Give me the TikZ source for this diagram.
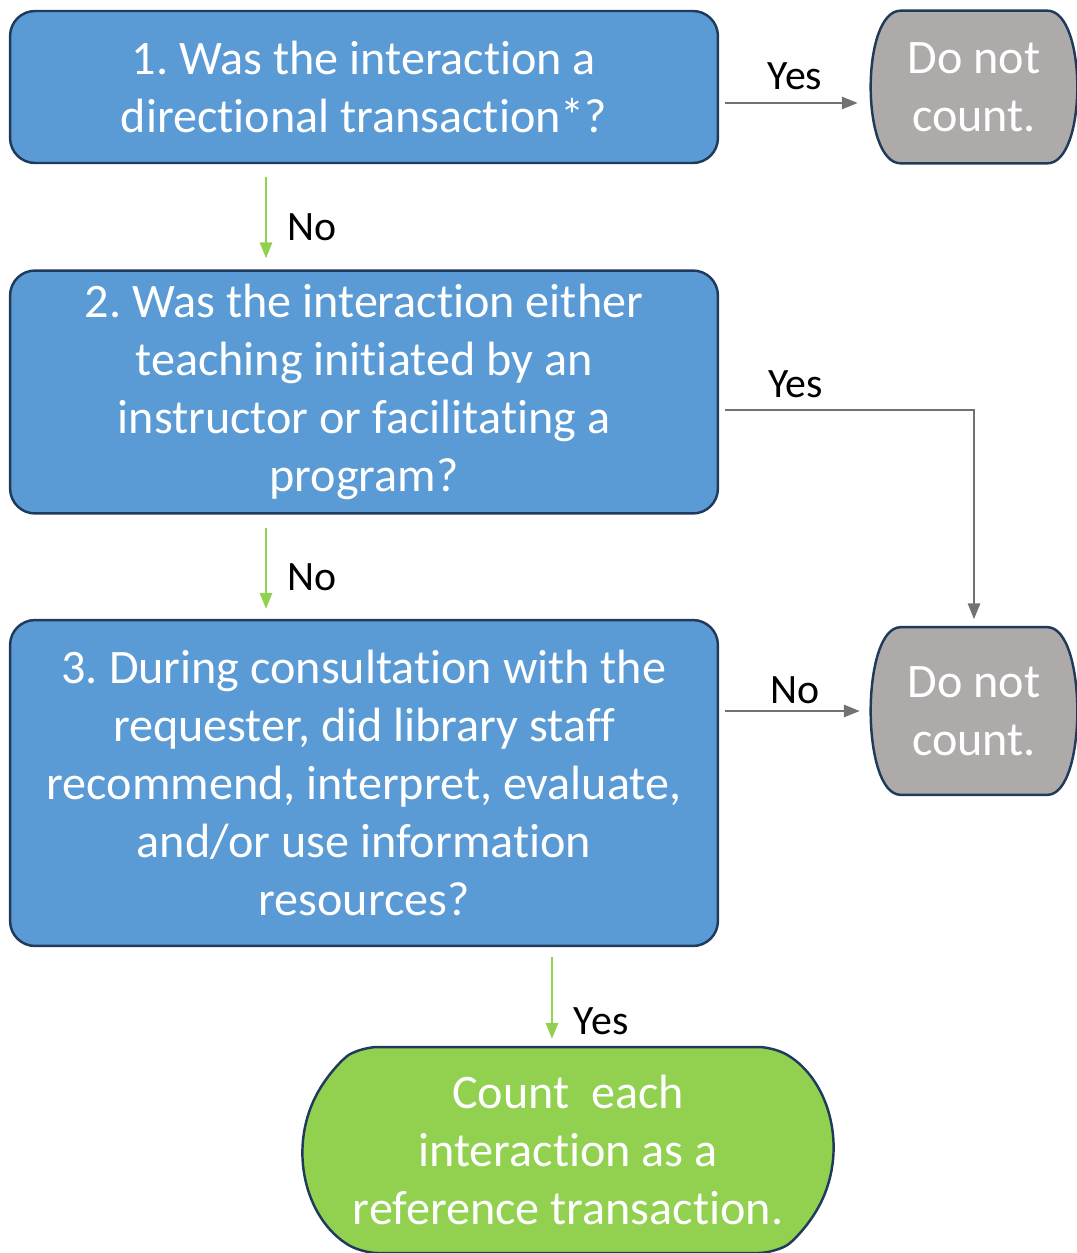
\documentclass[tikz,border=0pt]{standalone}
\usepackage{fontspec}
\setmainfont{Carlito}[Ligatures=NoCommon]
\usepackage{xcolor}
\usepackage{tikz}
\usetikzlibrary{arrows.meta, positioning, shapes.misc, backgrounds}
\frenchspacing

\definecolor{askblue}{HTML}{5B9BD5}
\definecolor{edgenavy}{HTML}{203A5C}
\definecolor{stopgray}{HTML}{AEAAAA}
\definecolor{countgreen}{HTML}{92D050}
\definecolor{linegray}{HTML}{767171}

% barrel outline round a plain node
\newcommand{\stopoutline}[1]{%
	\draw[stopline] ([xshift=0.6cm]#1.north west) -- ([xshift=-0.6cm]#1.north east)
		.. controls ([xshift=0.2cm]#1.north east) and ([xshift=0.2cm]#1.south east) .. ([xshift=-0.6cm]#1.south east)
		-- ([xshift=0.6cm]#1.south west)
		.. controls ([xshift=-0.2cm]#1.south west) and ([xshift=-0.2cm]#1.north west) .. cycle;}

\tikzset{
	question/.style = {draw=edgenavy, line width=1.4pt, fill=askblue, rounded corners=0.5cm,
		text=white, align=center, minimum width=14.16cm, font=\fontsize{27.4}{33}\selectfont},
	stopnode/.style = {text=white, align=center, minimum width=4.12cm, font=\fontsize{27.4}{33}\selectfont},
	stopline/.style = {draw=edgenavy, line width=1.4pt, fill=stopgray},
	countnode/.style = {draw=edgenavy, line width=1.4pt, fill=countgreen, rounded rectangle,
		rounded rectangle arc length=120, rounded corners=0.3cm, text=white,
		align=center, minimum width=10.84cm, minimum height=4.12cm, font=\fontsize{27.4}{33}\selectfont},
	noarrow/.style = {draw=linegray, line width=1.1pt, -{Triangle[length=9pt,width=7pt]}},
	goarrow/.style = {draw=countgreen, line width=1.1pt, -{Triangle[length=9pt,width=7pt]}},
	answer/.style = {text=black, font=\fontsize{23.8}{28}\selectfont}
}

\begin{document}
\begin{tikzpicture}[x=0.02cm, y=-0.02cm]
	\useasboundingbox (0, 0) rectangle (1077, 1253);
	% questions
	\node[question, minimum height=3.04cm] (q1) at (364, 87) {1. Was the interaction a\\directional transaction*?};
	\node[question, minimum height=4.86cm] (q2) at (364, 392) {2. Was the interaction either\\teaching initiated by an\\instructor or facilitating a\\program?};
	\node[question, minimum height=6.52cm] (q3) at (364, 783) {3. During consultation with the\\requester, did library staff\\recommend, interpret, evaluate,\\and/or use information\\resources?};
	% outcomes
	\node[stopnode, minimum height=3.04cm] (skip1) at (974, 87) {Do not\\count.};
	\node[stopnode, minimum height=3.34cm] (skip2) at (974, 711) {Do not\\count.};
	\node[countnode] (count) at (568, 1150) {Count~ each\\interaction as a\\reference transaction.};
	\begin{scope}[on background layer]
		\stopoutline{skip1}
		\stopoutline{skip2}
	\end{scope}
	% connectors
	\draw[noarrow, shorten <=0.12cm, shorten >=0.26cm] ([yshift=-0.32cm]q1.east) -- ([yshift=-0.32cm]q1.east -| skip1.west) node[midway, above=0.12cm, answer]{Yes};
	\draw[goarrow, shorten <=0.26cm, shorten >=0.22cm] ([xshift=-1.96cm]q1.south) -- ([xshift=-1.96cm]q2.north) node[pos=0.6, right=0.3cm, answer]{No};
	\draw[noarrow, shorten <=0.12cm, shorten >=0.16cm] ([yshift=-0.36cm]q2.east) -| (skip2.north) node[pos=0.15, above=0.1cm, answer]{Yes};
	\draw[goarrow, shorten <=0.26cm, shorten >=0.2cm] ([xshift=-1.96cm]q2.south) -- ([xshift=-1.96cm]q3.north) node[pos=0.6, right=0.3cm, answer]{No};
	\draw[noarrow, shorten <=0.12cm, shorten >=0.22cm] (q3.east |- skip2.west) -- (skip2.west) node[midway, above, answer]{No};
	\draw[goarrow, shorten <=0.2cm, shorten >=0.14cm] ([xshift=3.76cm]q3.south) -- ([xshift=3.76cm]q3.south |- count.north) node[pos=0.75, right=0.3cm, answer]{Yes};
\end{tikzpicture}
\end{document}
